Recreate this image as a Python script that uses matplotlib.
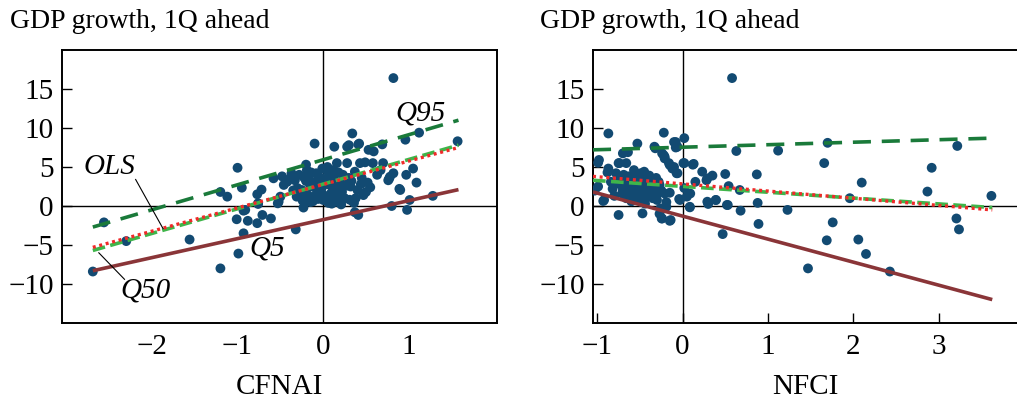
import matplotlib
matplotlib.use("Agg")
import matplotlib.pyplot as plt

plt.rcParams['font.family'] = ['Liberation Serif', 'DejaVu Serif']

title_text = "GDP growth, 1Q ahead"
xlabels = ["CFNAI", "NFCI"]

# ---- Left panel data (CFNAI vs GDP growth) ----
cf_x = [-2.69, -2.56, -2.30, -1.56, -1.20, -1.20, -1.12, -1.00, -0.95, -1.01, -0.99, -0.93, -0.93,
        -0.88, -0.77, -0.77, -0.76, -0.72, -0.71, -0.61, -0.58, -0.53, -0.50, -0.48, -0.32, -0.23,
        -0.20, -0.10, 0.13, 0.28, 0.34, 0.41, 0.69, 0.82, 1.12, 0.96, 1.57, 1.05, 0.97, 1.09, 0.89,
        0.82, 0.77, 1.28, 1.01, 0.98, 0.80, 0.70, 0.63, 0.41, 0.37, 0.36,
        -0.46, -0.37, -0.33, -0.76, -0.52, -0.31, -0.25, -0.19, -0.15, -0.11, -0.05, -0.04, 0.00,
        0.04, 0.10, 0.08, -0.91, 0.30, 0.42, 0.53, 0.59, 0.16, 0.28, 0.43, 0.49, 0.58, 0.67, 0.78,
        0.76, 0.90, 0.35, 0.20, 0.32, 0.40, 0.47, 0.16, 0.12, 0.24, 0.37, 0.45, 0.08,
        -0.10, 0.00, 0.05, -0.05, 0.15, 0.20, -0.20, 0.25, -0.15, 0.10, 0.30, -0.30, 0.05, 0.18,
        -0.08, -0.02, 0.22, -0.26, 0.12, 0.02, -0.12, 0.27, 0.50, 0.55,
        -0.40, -0.35, -0.28, -0.22, -0.18, -0.14, -0.09, -0.06, -0.01, 0.03, 0.07, 0.11, 0.14,
        0.19, 0.23, 0.26, 0.33, 0.38, 0.44, 0.52, -0.24, -0.16, 0.06, 0.17, 0.31, -0.42, 0.13,
        -0.03, 0.21, 0.09]
cf_y = [-8.4, -2.1, -4.5, -4.3, -8.0, 1.8, 1.2, 4.9, 2.35, -1.7, -6.1, -0.6, -3.5,
        -1.9, -2.2, 1.5, 0.26, 2.1, -1.15, -1.6, 3.55, 0.34, 1.2, 3.8, -3.0, -0.2,
        5.3, 8.0, 7.6, 7.6, 9.3, 7.9, 7.9, 16.4, 9.4, 8.5, 8.3, 4.8, 4.0, 3.0, 2.2,
        4.2, 3.5, 1.3, 0.77, -0.5, 0.0, 5.5, 4.0, -1.15, -0.8, 0.4,
        2.7, 4.2, 3.3, 0.35, 0.55, 1.2, 2.05, 4.6, 2.5, 1.2, 3.75, 2.05, 0.77,
        4.6, 2.5, 1.2, -0.5, 7.8, 8.0, 7.2, 7.0, 5.5, 5.5, 5.5, 5.6, 5.5, 4.6, 3.75,
        3.3, 2.05, 0.55, 2.05, 2.5, 2.05, 1.4, 0.55, 3.3, 3.75, 4.4, 3.6, 1.2,
        3.0, 3.5, 2.8, 1.6, 1.5, 3.0, 3.2, 1.0, 0.5, 0.3, 3.6, 2.3, 5.0, 4.3,
        4.2, 2.2, 1.8, 1.7, 0.9, 1.3, 0.6, 2.6, 1.8, 2.4,
        3.4, 2.0, 4.0, 3.6, 1.4, 4.3, 2.3, 0.9, 4.8, 1.0, 3.8, 4.6, 2.1,
        0.8, 4.0, 2.9, 3.2, 1.0, 2.8, 3.0, 0.7, 3.9, 0.4, 2.6, 0.8, 3.1, 3.9,
        2.9, 0.2, 1.6]

cf_line_x = [-2.69, 1.58]
cf_q95 = [-2.7, 11.0]
cf_q50 = [-5.7, 7.8]
cf_ols = [-5.3, 7.5]
cf_q5 = [-8.3, 2.1]

# ---- Right panel data (NFCI vs GDP growth) ----
nf_x = [0.58, -0.87, -0.22, 0.02, -0.10, -0.53, 0.63, 1.12, 1.70, 3.22, 2.92, 2.87, 3.62, 3.21,
        3.24, 1.66, 2.10, 1.96, 1.76, 1.69, 2.06, 2.15, 1.47, 2.43, 1.23, 0.87, 0.88, 0.89, 0.68,
        0.67, 0.54, 0.53, 0.50, 0.47, 0.39, 0.30, 0.35, 0.23, 0.28, 0.12, 0.15, 0.085, 0.09, 0.01,
        -0.03, -0.75, -0.47, -0.93, -1.03, -0.99, -0.99, -0.87, -0.75, -0.66, -0.70, -0.64, -0.32,
        -0.22, -0.21, -0.15, -0.12, -0.08, -0.07, -0.21, -0.15, -0.19, -0.19, -0.245, -0.27, -0.15,
        -0.04, -0.74, -0.78, -0.65, -0.57, -0.49, -0.46, -0.84, -0.72, -0.61, -0.53, -0.43, -0.39,
        -0.32, -0.30, -0.66, -0.57, -0.92, -0.26, -0.24, -0.33, -0.98, -0.08, -0.06, -0.24, -0.21,
        -0.16, -0.10, 0.02, 0.13, -0.06, 0.29, 0.02, 0.05, 0.29, 0.39, 0.52, 0.085, -0.14,
        -0.68, -0.60, -0.55, -0.50, -0.45, -0.40, -0.35, -0.62, -0.70, -0.80, -0.48, -0.38,
        -0.58, -0.42, -0.36, -0.52, -0.44, -0.28,
        -0.76, -0.71, -0.67, -0.63, -0.59, -0.56, -0.51, -0.47, -0.44, -0.41, -0.37, -0.34,
        -0.30, -0.27, -0.82, -0.69, -0.54, -0.49, -0.39, -0.31, -0.60, -0.45, -0.35, -0.73,
        -0.64, -0.50, -0.42, -0.25, -0.88, -0.57]
nf_y = [16.4, 9.3, 9.4, 8.7, 8.2, 8.0, 7.05, 7.1, 8.1, 7.7, 4.9, 1.85, 1.3, -1.6,
        -3.0, 5.5, 3.0, 1.0, -2.1, -4.4, -4.3, -6.15, -8.0, -8.4, -0.5, 4.05, 0.4, -2.3, -0.6,
        2.05, 2.55, 0.13, 4.1, -3.6, 0.77, 0.26, 3.9, 4.4, 3.3, 5.3, 3.1, -0.1, 1.6, 5.5,
        0.77, -1.15, -0.95, 0.64, 1.97, 2.5, 5.55, 4.8, 5.5, 5.5, 6.75, 6.9, 7.4,
        6.5, 6.1, 5.25, 4.8, 7.5, 4.2, 1.6, 1.7, 0.5, -0.1, -1.6, -1.0, -1.9,
        0.9, 5.5, 4.2, 3.75, 4.6, 4.2, 3.3, 3.1, 2.7, 2.5, 1.85, 2.5, 1.4,
        2.05, 0.77, 1.0, 0.77, 0.77, -0.3, -1.6, 7.6, 5.9, 8.2, 7.6, 6.75, 6.3,
        5.5, 5.0, 5.5, 5.4, 4.2, 3.55, 2.3, 1.2, 0.55, 0.77, 0.13, -0.17, -1.8,
        3.3, 3.0, 2.2, 1.5, 2.8, 3.7, 1.0, 1.6, 2.0, 1.3, 0.5, 2.6,
        3.9, 3.6, 1.8, 2.9, 0.3, 3.1,
        2.9, 1.6, 2.4, 3.8, 1.2, 3.2, 2.4, 3.4, 1.7, 2.1, 3.0, 2.3,
        1.5, 2.7, 2.2, 4.0, 4.0, 1.0, 3.9, 3.6, 0.6, 4.4, 2.4, 3.5,
        2.0, 3.7, 1.2, 2.0, 4.3, 1.3]

nf_line_x = [-1.05, 3.63]
nf_q95 = [7.2, 8.7]
nf_q50 = [3.3, -0.2]
nf_ols = [3.8, -0.5]
nf_q5 = [1.8, -12.0]

dot_color = "#124a72"
q95_color = "#1a7a3a"
q50_color = "#3fb54a"
ols_color = "#f02a2a"
q5_color = "#8a3538"

fig = plt.figure(figsize=(10.17, 3.98), dpi=100)
ax1 = fig.add_axes([62/1017, 1-323/398, (497-62)/1017, (323-50)/398])
ax2 = fig.add_axes([593/1017, 1-323/398, (1017-593)/1017, (323-50)/398])

FS = 21
TFS = 20

def draw(ax, xs, ys, lx, q95, q50, ols, q5):
    ax.axhline(0, color="black", lw=1.0, zorder=1)
    ax.axvline(0, color="black", lw=1.0, zorder=1)
    ax.scatter(xs, ys, s=50, color=dot_color, edgecolors="none", zorder=3)
    ax.plot(lx, q5, color=q5_color, lw=2.6, solid_capstyle="butt", zorder=4)
    ax.plot(lx, q95, color=q95_color, lw=2.6, dashes=(5.0, 3.0), zorder=4)
    ax.plot(lx, q50, color=q50_color, lw=2.6, dashes=(3.5, 1.5), zorder=4)
    ax.plot(lx, ols, color=ols_color, lw=2.4, dashes=(0.9, 1.1), zorder=5)
    ax.set_ylim(-15, 20)
    ax.set_yticks([-10, -5, 0, 5, 10, 15])
    ax.set_yticklabels(["\u221210", "\u22125", "0", "5", "10", "15"])
    ax.tick_params(direction="in", length=7, width=1.0, labelsize=FS, pad=6)
    for sp in ax.spines.values():
        sp.set_linewidth(1.4)

draw(ax1, cf_x, cf_y, cf_line_x, cf_q95, cf_q50, cf_ols, cf_q5)
ax1.set_xlim(-3.05, 2.03)
ax1.set_xticks([-2, -1, 0, 1])
ax1.set_xticklabels(["\u22122", "\u22121", "0", "1"])
ax1.tick_params(axis="x", length=0, pad=8)

draw(ax2, nf_x, nf_y, nf_line_x, nf_q95, nf_q50, nf_ols, nf_q5)
ax2.set_xlim(-1.05, 3.92)
ax2.set_xticks([-1, 0, 1, 2, 3])
ax2.set_xticklabels(["\u22121", "0", "1", "2", "3"])
ax2.tick_params(axis="x", pad=8)
ax2.spines["right"].set_visible(False)

for ax, lab in zip([ax1, ax2], xlabels):
    ax.set_xlabel(lab, fontsize=FS, labelpad=10)

fig.text(10/1017, 1-21/398, title_text, fontsize=TFS, va="center", ha="left")
fig.text(540/1017, 1-21/398, title_text, fontsize=TFS, va="center", ha="left")

# annotations on left panel
ax1.text(-2.49, 5.0, "OLS", fontsize=FS, style="italic", ha="center", va="center")
ax1.plot([-2.19, -1.87], [3.4, -2.9], color="black", lw=0.8, zorder=6)
ax1.text(1.14, 11.9, "Q95", fontsize=FS, style="italic", ha="center", va="center")
ax1.text(-0.65, -5.4, "Q5", fontsize=FS, style="italic", ha="center", va="center")
ax1.text(-2.07, -10.8, "Q50", fontsize=FS, style="italic", ha="center", va="center")
ax1.plot([-2.62, -2.32], [-6.0, -9.4], color="black", lw=0.8, zorder=6)

fig.savefig("out.png", dpi=100)
